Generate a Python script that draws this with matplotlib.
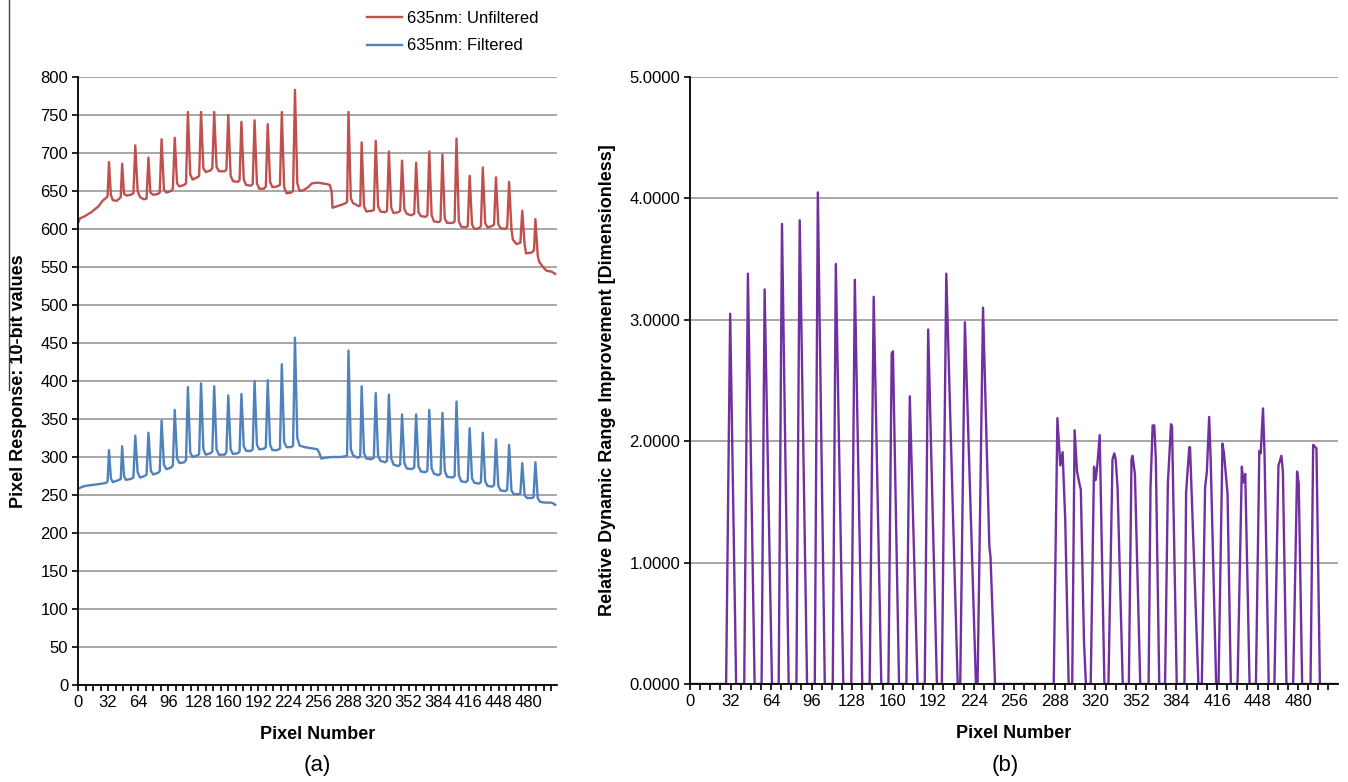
import numpy as np
import matplotlib
matplotlib.use("Agg")
import matplotlib.pyplot as plt
from matplotlib.lines import Line2D
from matplotlib.ticker import MultipleLocator, FormatStrFormatter

plt.rcParams['font.family'] = ['Liberation Sans', 'DejaVu Sans']

# ---- panel (a): pixel response, vertices ----
unf_px = [0, 2, 6, 10, 14, 18, 22, 26, 30, 31.5,
          33, 35, 37, 41, 44, 45.5,
          47, 49, 52, 56, 59,
          61, 63.5, 66, 70, 73,
          75, 77, 80, 85, 87,
          89, 91.5, 94, 99, 101,
          103, 105.5, 108, 113, 115,
          117, 119.5, 122, 127, 129,
          131, 133.5, 136, 141, 143,
          145, 147.5, 150, 156, 158,
          160, 162.5, 165, 170, 172,
          174, 176.5, 179, 184, 186,
          188, 190.5, 193, 198, 200,
          202, 204.5, 207, 212, 215,
          217, 219.5, 222, 227, 229,
          231, 233.5, 236, 240, 245, 249, 255, 260, 265, 268, 270, 271, 276, 281, 285, 286.5,
          288, 290.5, 293, 299, 300.5,
          302, 304.5, 307, 313, 315,
          317, 319.5, 322, 327, 329,
          331, 333.5, 336, 341, 343,
          345, 347.5, 350, 355, 358,
          360, 362.5, 365, 370, 372,
          374, 376.5, 379, 384, 386,
          388, 390.5, 393, 399, 401,
          403, 405.5, 408, 413, 415,
          417, 419.5, 422, 427, 429,
          431, 433.5, 436, 441, 443,
          445, 447.5, 450, 455, 457,
          459, 461.5, 463, 467, 471,
          473, 475.5, 477, 483, 485.5,
          487, 489.5, 491, 495, 499, 504, 508]
unf_val = [608, 614, 616, 619, 622, 626, 630, 637, 641, 643,
           688, 645, 638, 637, 640, 642,
           686, 646, 644, 645, 647,
           710, 650, 642, 639, 640,
           694, 648, 645, 646, 648,
           718, 652, 648, 650, 653,
           720, 660, 656, 658, 660,
           754, 672, 665, 668, 670,
           754, 680, 675, 677, 680,
           754, 682, 676, 676, 678,
           750, 670, 663, 662, 664,
           741, 665, 658, 657, 659,
           743, 660, 653, 653, 656,
           738, 662, 655, 656, 658,
           754, 655, 647, 648, 650,
           783, 660, 650, 651, 655, 660, 661, 660, 659, 658, 650, 628, 630, 632, 634, 636,
           754, 640, 634, 630, 631,
           714, 630, 623, 624, 625,
           716, 630, 623, 622, 624,
           702, 628, 621, 622, 624,
           690, 626, 620, 618, 620,
           687, 622, 617, 616, 618,
           702, 618, 610, 609, 611,
           698, 614, 608, 608, 610,
           719, 610, 603, 602, 604,
           670, 606, 600, 601, 604,
           681, 608, 602, 604, 606,
           668, 606, 601, 600, 603,
           662, 600, 586, 580, 582,
           624, 580, 568, 569, 572,
           613, 565, 557, 550, 545, 544, 541]

filt_px = [0, 3, 8, 14, 20, 26, 30, 31.5,
           33, 35, 37, 42, 45.5,
           47, 49, 51, 56, 59,
           61, 63.5, 66, 71, 73,
           75, 77.5, 80, 85, 87,
           89, 91.5, 94, 99, 101,
           103, 105.5, 108, 113, 115,
           117, 119.5, 122, 127, 129,
           131, 133.5, 136, 141, 143,
           145, 147.5, 150, 156, 158,
           160, 162.5, 165, 170, 172,
           174, 176.5, 179, 184, 186,
           188, 190.5, 193, 198, 200,
           202, 204.5, 207, 212, 215,
           217, 219.5, 222, 227, 229,
           231, 233.5, 236, 241, 246, 251, 255, 257, 259, 264, 270, 275, 280, 285, 286.5,
           288, 290.5, 293, 298, 300.5,
           302, 304.5, 307, 312, 315,
           317, 319.5, 322, 327, 329,
           331, 333.5, 336, 341, 343,
           345, 347.5, 350, 355, 358,
           360, 362.5, 365, 370, 372,
           374, 376.5, 379, 384, 386,
           388, 390.5, 393, 399, 401,
           403, 405.5, 408, 413, 415,
           417, 419.5, 422, 427, 429,
           431, 433.5, 436, 441, 443,
           445, 447.5, 450, 455, 457,
           459, 461.5, 464, 469, 471,
           473, 475.5, 478, 483, 485,
           487, 489.5, 492, 497, 503, 506, 508]
filt_val = [258, 260, 262, 263, 264, 265, 266, 268,
            309, 272, 267, 269, 271,
            314, 275, 270, 271, 273,
            328, 280, 273, 275, 277,
            332, 282, 277, 279, 281,
            348, 290, 284, 286, 289,
            362, 298, 292, 293, 296,
            392, 306, 300, 302, 304,
            397, 310, 303, 305, 307,
            393, 310, 303, 303, 306,
            381, 310, 304, 305, 307,
            383, 314, 308, 308, 310,
            400, 316, 310, 311, 313,
            401, 316, 309, 309, 311,
            422, 320, 313, 313, 315,
            457, 325, 315, 313, 312, 311, 310, 305, 298, 299, 300, 300, 300, 301, 302,
            440, 310, 302, 299, 301,
            393, 305, 298, 297, 299,
            384, 302, 295, 293, 295,
            382, 298, 290, 288, 290,
            356, 292, 285, 284, 286,
            356, 288, 281, 280, 282,
            362, 285, 278, 276, 278,
            358, 282, 274, 273, 275,
            373, 276, 268, 267, 269,
            338, 272, 266, 265, 267,
            332, 268, 262, 261, 263,
            323, 262, 256, 255, 257,
            316, 256, 251, 251, 252,
            292, 250, 246, 246, 247,
            293, 246, 241, 240, 240, 239, 237]

# ---- panel (b): relative dynamic range improvement ----
drr_px = [0, 28.5, 31.7, 36.4, 42.8, 45.7, 51, 56.5, 58.9, 64.7,
          70, 72.6, 77.9, 84, 86.6, 92.4, 98.5, 100.9, 106.4,
          112.7, 115.1, 121, 127.3, 130.1, 136, 141.8, 145, 151,
          156.6, 159.2, 160.2, 165, 170.8, 173.5, 179.6, 185.3, 188, 194.9,
          198.8, 202.3, 211.3, 213.3, 217, 225.7, 227, 231.3, 236.3, 237.2, 240.8,
          287.1, 290, 292.3, 294.1, 296.2, 298.9,
          301.7, 303.6, 305.5, 307.6, 308.5, 311, 312.5,
          316.3, 318.9, 320.2, 321.5, 323.4, 327.1,
          330.3, 333.5, 334.9, 336, 337.5, 341.6,
          346.4, 348.5, 349.3, 351.2, 355.4,
          362, 363.5, 365.2, 366.5, 367.7, 370.4,
          375, 377.2, 379.7, 380.5, 384.2,
          390.3, 391.6, 394.1, 394.7, 401.3,
          404, 406.6, 408, 409.8, 411, 415.3,
          417.2, 420.3, 421.5, 424.3, 426.9,
          432.2, 435.6, 436.8, 438.3, 441.7,
          446.7, 449.4, 450.5, 452.3, 453.5, 456.8,
          461.3, 464.5, 466.8, 468, 470.8,
          476.1, 479.2, 480.5, 483.2,
          489.8, 491.9, 494.5, 497.2, 512]
drr_val = [0, 0, 3.05, 0, 0, 3.38, 0, 0, 3.25, 0,
           0, 3.79, 0, 0, 3.82, 0, 0, 4.05, 0,
           0, 3.46, 0, 0, 3.33, 0, 0, 3.19, 0,
           0, 2.72, 2.74, 0, 0, 2.37, 0, 0, 2.92, 0,
           0, 3.38, 0, 0, 2.98, 0, 0, 3.10, 1.13, 1.05, 0,
           0, 2.19, 1.80, 1.91, 1.35, 0,
           0, 2.09, 1.75, 1.64, 1.60, 0.35, 0,
           0, 1.79, 1.68, 1.80, 2.05, 0,
           0, 1.85, 1.90, 1.85, 1.62, 0,
           0, 1.85, 1.88, 1.73, 0,
           0, 1.62, 2.13, 2.13, 1.85, 0,
           0, 1.65, 2.14, 2.12, 0,
           0, 1.58, 1.95, 1.95, 0,
           0, 1.62, 1.75, 2.20, 1.85, 0,
           0, 1.98, 1.90, 1.57, 0,
           0, 1.79, 1.66, 1.73, 0,
           0, 1.92, 1.90, 2.27, 1.90, 0,
           0, 1.80, 1.88, 1.75, 0,
           0, 1.75, 1.65, 0,
           0, 1.97, 1.94, 0, 0]

W, H = 1348, 782
fig = plt.figure(figsize=(W / 100, H / 100), dpi=100)
ax1 = fig.add_axes([78 / W, 1 - 685 / H, 479 / W, 608 / H])
ax2 = fig.add_axes([690 / W, 1 - 684 / H, 648 / W, 607 / H])

red = "#C0504D"
blue = "#4F81BD"
purple = "#7030A0"

ax1.plot(unf_px, unf_val, color=red, lw=1.7, label="635nm: Unfiltered")
ax1.plot(filt_px, filt_val, color=blue, lw=1.7, label="635nm: Filtered")
ax2.plot(drr_px, drr_val, color=purple, lw=1.7)

for ax in (ax1, ax2):
    ax.grid(axis="y", color="#a0a0a0", lw=1.3)
    ax.set_axisbelow(True)
    for s in ("top", "right"):
        ax.spines[s].set_visible(False)
    ax.spines["left"].set_linewidth(1.3)
    ax.spines["bottom"].set_linewidth(1.3)
    ax.xaxis.set_major_locator(MultipleLocator(32))
    ax.xaxis.set_minor_locator(MultipleLocator(8))
    ax.tick_params(axis="both", which="both", direction="out", length=4, width=1.2,
                   labelsize=12, pad=3)
    ax.set_xlabel("Pixel Number", fontsize=13, fontweight="bold", labelpad=12)

ax1.set_xlim(0, 510)
ax1.set_ylim(0, 800)
ax1.yaxis.set_major_locator(MultipleLocator(50))
ax1.set_ylabel("Pixel Response: 10-bit values", fontsize=13, fontweight="bold", labelpad=10)

ax2.set_xlim(0, 511.5)
ax2.set_ylim(0, 5)
ax2.yaxis.set_major_locator(MultipleLocator(1))
ax2.yaxis.set_major_formatter(FormatStrFormatter("%.4f"))
ax2.set_ylabel("Relative Dynamic Range Improvement [Dimensionless]", fontsize=13,
               fontweight="bold", labelpad=10)

fig.legend(loc="upper left", bbox_to_anchor=(352 / W, 1 + 4 / H), frameon=False,
           fontsize=12, handlelength=2.1, labelspacing=0.75, handletextpad=0.3)

fig.text(317 / W, 1 - 765 / H, "(a)", ha="center", va="center", fontsize=16)
fig.text(1005 / W, 1 - 765 / H, "(b)", ha="center", va="center", fontsize=16)

# thin frame edge visible at the left of the original picture
fig.add_artist(Line2D([9 / W, 9 / W], [1, 1 - 390 / H], color="#404040", lw=1))

fig.savefig("out.png", dpi=100)
